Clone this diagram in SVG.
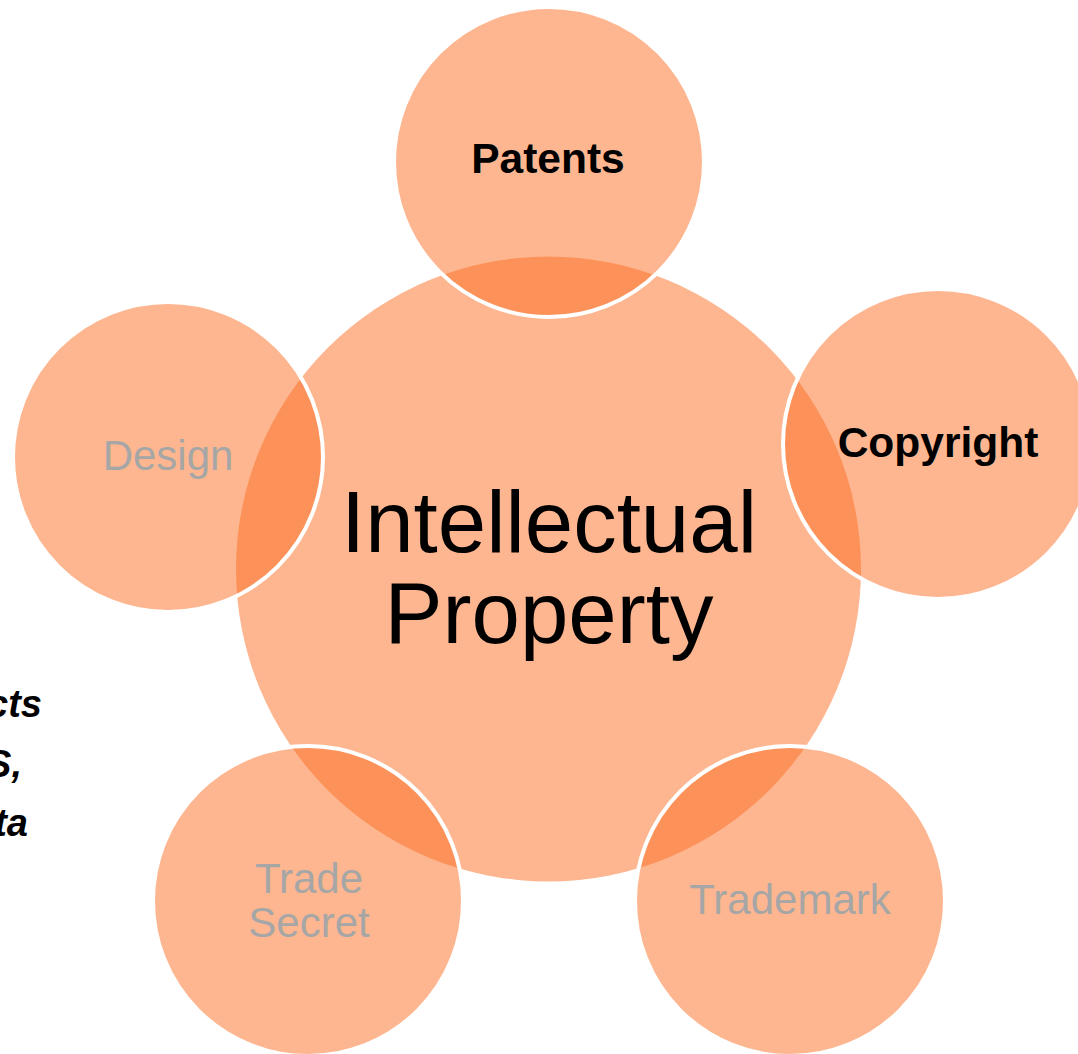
<svg xmlns="http://www.w3.org/2000/svg" width="1078" height="1054" viewBox="0 0 1078 1054">
<style>
.center{fill:#FDB690;}
.sat{fill:#FB6D21;fill-opacity:0.5;stroke:#FFFFFF;stroke-width:4;}
.lbl{font-family:"Liberation Sans",Arial,sans-serif;font-size:42px;text-anchor:middle;}
.dark{fill:#000000;font-weight:bold;font-size:42.5px;}
.grey{fill:#A6A6A6;}
.main{font-family:"Liberation Sans",Arial,sans-serif;font-size:87px;fill:#000000;text-anchor:middle;}
.side{font-family:"Liberation Sans",Arial,sans-serif;font-size:38px;font-weight:bold;font-style:italic;fill:#000000;text-anchor:end;}
</style>
<rect width="1078" height="1054" fill="#FFFFFF"/>
<g id="side-text">
<text class="side" x="42" y="717">cts</text>
<text class="side" x="22" y="777">S,</text>
<text class="side" x="28" y="836">ta</text>
</g>
<g id="connectors"></g>
<g id="node-ip">
<circle class="center" cx="548.5" cy="569" r="312.5"/>
</g>
<g id="node-patents">
<circle class="sat" cx="549" cy="162" r="155"/>
<text class="lbl dark" x="548" y="173">Patents</text>
</g>
<g id="node-copyright">
<circle class="sat" cx="938" cy="444" r="155"/>
<text class="lbl dark" x="938" y="457">Copyright</text>
</g>
<g id="node-trademark">
<circle class="sat" cx="790" cy="901" r="155"/>
<text class="lbl grey" x="790" y="914">Trademark</text>
</g>
<g id="node-tradesecret">
<circle class="sat" cx="308" cy="901" r="155"/>
<text class="lbl grey" x="309" y="893">Trade</text>
<text class="lbl grey" x="309" y="937">Secret</text>
</g>
<g id="node-design">
<circle class="sat" cx="168" cy="457" r="155"/>
<text class="lbl grey" x="168" y="470">Design</text>
</g>
<g id="node-ip-label">
<text class="main" x="549" y="552">Intellectual</text>
<text class="main" x="549" y="643">Property</text>
</g>
</svg>
